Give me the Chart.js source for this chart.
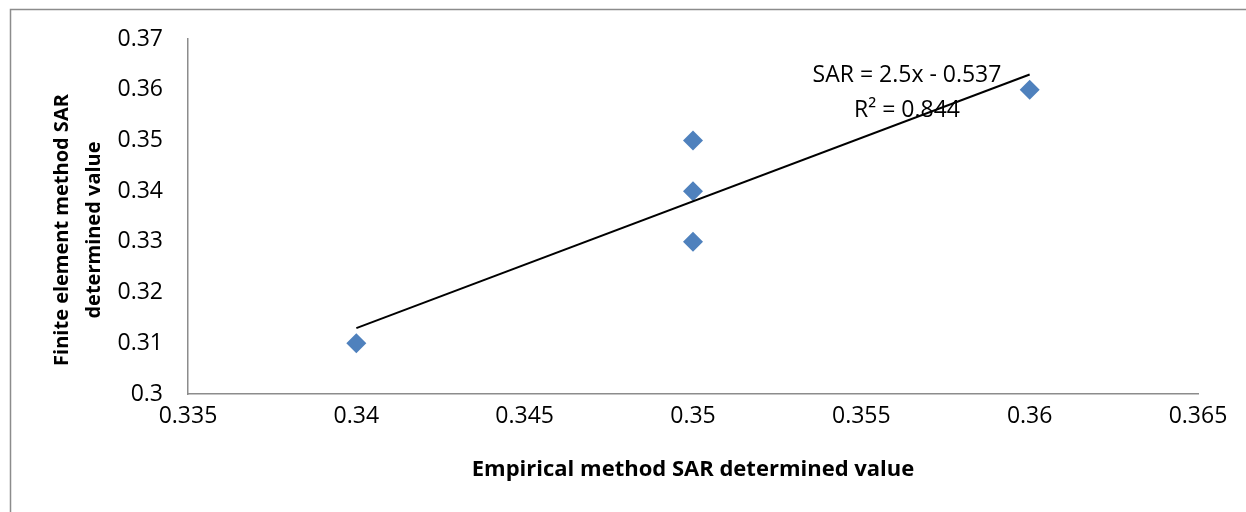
<!DOCTYPE html>
<html>
<head>
<meta charset="utf-8">
<script src="https://cdn.jsdelivr.net/npm/chart.js@4.4.1/dist/chart.umd.min.js"></script>
<style>
html,body{margin:0;padding:0;background:#fff;}
#wrap{width:1246px;height:512px;position:relative;}
</style>
</head>
<body>
<div id="wrap"><canvas id="c" width="1246" height="512"></canvas></div>
<script>
// Data
const empiricalX = [0.34, 0.35, 0.35, 0.35, 0.36];
const finiteY = [0.31, 0.35, 0.34, 0.33, 0.36];
const trendX = [0.34, 0.36];
const trendY = [0.313, 0.363];
const xTicks = [0.335, 0.34, 0.345, 0.35, 0.355, 0.36, 0.365];
const yTicks = [0.3, 0.31, 0.32, 0.33, 0.34, 0.35, 0.36, 0.37];
const eqLabel = "SAR = 2.5x - 0.537";
const r2Label = "R\u00B2 = 0.844";
const xTitle = "Empirical method SAR determined value";
const yTitle = ["Finite element method SAR", "determined value"];

const FONT = "'Open Sans', 'Noto Sans', sans-serif";

const frame = {
  id: 'frame',
  beforeDraw(chart) {
    const ctx = chart.ctx;
    ctx.save();
    ctx.fillStyle = '#fff';
    ctx.fillRect(0, 0, chart.width, chart.height);
    ctx.strokeStyle = '#8c8c8c';
    ctx.lineWidth = 1.5;
    ctx.strokeRect(10.5, 9.5, 1260, 520);
    ctx.restore();
  },
  afterDraw(chart) {
    const ctx = chart.ctx;
    const ca = chart.chartArea;
    ctx.save();
    ctx.fillStyle = '#000';
    ctx.textAlign = 'center';
    ctx.textBaseline = 'middle';
    // trendline equation
    ctx.font = "23px " + FONT;
    ctx.fillText(eqLabel, 907, 75);
    ctx.fillText(r2Label, 907, 110);
    // x axis title
    ctx.font = "bold 22px " + FONT;
    ctx.fillText(xTitle, (ca.left + ca.right) / 2, 470);
    // y axis title
    ctx.font = "bold 20px " + FONT;
    ctx.translate(0, 230);
    ctx.rotate(-Math.PI / 2);
    ctx.fillText(yTitle[0], 0, 62);
    ctx.fillText(yTitle[1], 0, 94);
    ctx.restore();
  }
};

const fmt = v => String(Number(Number(v).toFixed(3)));

new Chart(document.getElementById('c'), {
  type: 'scatter',
  data: {
    datasets: [
      {
        label: 'points',
        data: empiricalX.map((x, i) => ({x: x, y: finiteY[i]})),
        pointStyle: 'rectRot',
        pointRadius: 10,
        pointHoverRadius: 10,
        backgroundColor: '#4F81BD',
        borderColor: '#4F81BD',
        borderWidth: 0,
        order: 2
      },
      {
        label: 'trend',
        type: 'line',
        data: trendX.map((x, i) => ({x: x, y: trendY[i]})),
        borderColor: '#000',
        borderWidth: 2,
        pointRadius: 0,
        fill: false,
        order: 1
      }
    ]
  },
  options: {
    responsive: false,
    animation: false,
    devicePixelRatio: 1,
    layout: { padding: { top: 39, right: 48, left: 0, bottom: 0 } },
    plugins: { legend: { display: false }, tooltip: { enabled: false } },
    scales: {
      x: {
        type: 'linear',
        min: 0.335, max: 0.365,
        afterBuildTicks: s => { s.ticks = xTicks.map(v => ({value: v})); },
        afterFit: s => { s.height = 118; },
        grid: { display: false, drawTicks: false },
        border: { display: true, color: '#8c8c8c', width: 1.5 },
        ticks: { color: '#000', font: { family: FONT, size: 23 }, padding: 9, maxRotation: 0, callback: v => fmt(v) },
        title: { display: false }
      },
      y: {
        type: 'linear',
        min: 0.3, max: 0.37,
        afterBuildTicks: s => { s.ticks = yTicks.map(v => ({value: v})); },
        afterFit: s => { s.width = 188; },
        grid: { display: false, drawTicks: false },
        border: { display: true, color: '#8c8c8c', width: 1.5 },
        ticks: { color: '#000', font: { family: FONT, size: 23 }, padding: 25, callback: v => fmt(v) },
        title: { display: false }
      }
    }
  },
  plugins: [frame]
});
</script>
</body>
</html>
